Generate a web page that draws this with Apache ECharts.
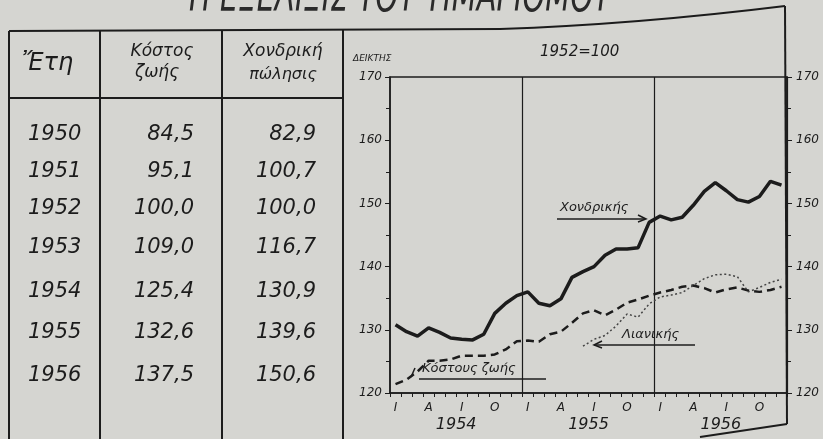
<!DOCTYPE html>
<html>
<head>
<meta charset="utf-8">
<script src="https://cdn.jsdelivr.net/npm/echarts@6/dist/echarts.min.js"></script>
<style>
  html, body { margin: 0; padding: 0; background: #d5d5d1; }
  #chart { width: 823px; height: 439px; }
</style>
</head>
<body>
<div id="chart"></div>
<script>
// monthly index 1954-1956 (1952 = 100)
var years = ["1954", "1955", "1956"];
var monthLetters = ["Ι", "Φ", "Μ", "Α", "Μ", "Ι", "Ι", "Α", "Σ", "Ο", "Ν", "Δ"];

var wholesale = [130.8, 129.7, 129.0, 130.3, 129.6, 128.7, 128.5, 128.4, 129.3, 132.6, 134.2, 135.4,
                 136.0, 134.2, 133.8, 134.9, 138.3, 139.2, 140.0, 141.8, 142.8, 142.8, 143.0, 147.0,
                 148.0, 147.4, 147.8, 149.7, 151.9, 153.3, 152.0, 150.6, 150.2, 151.1, 153.5, 152.9];
var costOfLiving = [121.4, 122.1, 123.4, 125.1, 125.1, 125.3, 125.9, 125.9, 125.9, 126.1, 126.9, 128.2,
                    128.3, 128.1, 129.3, 129.7, 131.1, 132.6, 133.1, 132.3, 133.2, 134.3, 134.8, 135.4,
                    135.9, 136.3, 136.8, 137.0, 136.6, 135.9, 136.4, 136.7, 136.2, 136.0, 136.3, 136.8];
var retail = [null, null, null, null, null, null, null, null, null, null, null, null,
              null, null, null, null, null, 127.4, 128.5, 129.1, 130.6, 132.5, 132.0, 134.1,
              135.2, 135.5, 135.9, 137.0, 138.1, 138.7, 138.8, 138.4, 136.0, 136.7, 137.5, 138.0];

// yearly table
var tableYears = ["1950", "1951", "1952", "1953", "1954", "1955", "1956"];
var tableCost = [84.5, 95.1, 100.0, 109.0, 125.4, 132.6, 137.5];
var tableWholesale = [82.9, 100.7, 100.0, 116.7, 130.9, 139.6, 150.6];

var ink = "#1c1c1c";
var hand = "'DejaVu Sans', sans-serif";

var months = [];
years.forEach(function (y) {
    monthLetters.forEach(function (m, i) { months.push(y + "-" + (i + 1)); });
});

function fmt(v) { return v.toFixed(1).replace(".", ","); }

function txt(s, x, y, size, align, extra) {
    var st = { text: s, x: x, y: y, fill: ink, align: align || "left", verticalAlign: "middle",
               font: "italic " + size + "px " + hand };
    if (extra) for (var k in extra) st[k] = extra[k];
    return { type: "text", silent: true, style: st };
}
function ln(x1, y1, x2, y2, w) {
    return { type: "line", silent: true, shape: { x1: x1, y1: y1, x2: x2, y2: y2 },
             style: { stroke: ink, lineWidth: w || 1.5 } };
}
function pl(pts, w) {
    return { type: "polyline", silent: true, shape: { points: pts },
             style: { stroke: ink, lineWidth: w || 1.5, fill: null } };
}

var graphics = [
    // title, only its lower part is on the page
    { type: "text", silent: true, x: 400, y: 21, scaleY: 1.5,
      style: { text: "Η ΕΞΕΛΙΞΙΣ ΤΟΥ ΤΙΜΑΡΙΘΜΟΥ", x: 0, y: 0, align: "center", verticalAlign: "bottom",
               fill: "#2a2a2a", font: "italic 29px " + hand } },
    // frame
    ln(9, 31, 500, 29, 2),
    { type: "bezierCurve", silent: true,
      shape: { x1: 500, y1: 29, cpx1: 620, cpy1: 25, cpx2: 720, cpy2: 14, x2: 785, y2: 6 },
      style: { stroke: ink, lineWidth: 2, fill: null } },
    ln(785, 6, 787, 424, 2),
    ln(700, 437, 787, 424, 2),
    ln(9, 31, 9, 439, 2),
    ln(100, 31, 100, 439, 2),
    ln(222, 31, 222, 439, 2),
    ln(343, 30, 343, 439, 2),
    ln(9, 98, 343, 98, 2),
    // table header
    txt("Ἔτη", 22, 64, 24),
    txt("Κόστος", 162, 52, 17, "center"),
    txt("ζωής", 157, 73, 17, "center"),
    txt("Χονδρική", 283, 52, 17, "center"),
    txt("πώλησις", 283, 75, 16, "center"),
    // chart header
    txt("ΔΕΙΚΤΗΣ", 353, 59, 9),
    txt("1952=100", 540, 52, 15),
    // series labels
    txt("Χονδρικής", 560, 208, 13),
    ln(557, 219, 645, 219, 1.5),
    pl([[638, 215], [646, 219], [638, 222]]),
    txt("Λιανικής", 622, 335, 13),
    ln(594, 345, 695, 345, 1.5),
    pl([[602, 341], [594, 345], [602, 348]]),
    txt("Κόστους ζωής", 422, 369, 13),
    ln(419, 379, 546, 379, 1.5),
    ln(411, 377, 415, 368, 1.5)
];

tableYears.forEach(function (y, i) {
    var rowY = [135, 172, 209, 248, 292, 333, 376][i];
    graphics.push(txt(y, 28, rowY, 21));
    graphics.push(txt(fmt(tableCost[i]), 194, rowY, 21, "right"));
    graphics.push(txt(fmt(tableWholesale[i]), 316, rowY, 21, "right"));
});

var myChart = echarts.init(document.getElementById("chart"));
var labelFont = { color: ink, fontStyle: "italic", fontFamily: hand, fontSize: 12 };

var option = {
    backgroundColor: "#d5d5d1",
    animation: false,
    grid: { left: 390, right: 36, top: 77, bottom: 46, show: true, borderColor: ink, borderWidth: 1.5 },
    xAxis: [{
        type: "category",
        data: months,
        boundaryGap: true,
        axisLine: { lineStyle: { color: ink, width: 1.5 } },
        axisTick: { show: true, interval: 0, length: 4, lineStyle: { color: ink } },
        axisLabel: Object.assign({
            interval: function (i) { return i % 3 === 0; },
            formatter: function (v, i) { return monthLetters[i % 12]; },
            margin: 9
        }, labelFont),
        splitLine: {
            show: true,
            interval: function (i) { return i > 0 && i % 12 === 0; },
            lineStyle: { color: ink, width: 1.2 }
        }
    }, {
        type: "category",
        data: years,
        position: "bottom",
        offset: 20,
        axisLine: { show: false },
        axisTick: { show: false },
        axisLabel: Object.assign({}, labelFont, { fontSize: 16, margin: 4 })
    }],
    yAxis: [{
        type: "value",
        min: 120, max: 170, interval: 10,
        axisLine: { show: true, lineStyle: { color: ink, width: 1.5 } },
        axisTick: { show: true, length: 5, lineStyle: { color: ink } },
        minorTick: { show: true, splitNumber: 2, length: 4, lineStyle: { color: ink } },
        splitLine: { show: false },
        axisLabel: Object.assign({ margin: 8 }, labelFont)
    }, {
        type: "value",
        position: "right",
        min: 120, max: 170, interval: 10,
        axisLine: { show: true, lineStyle: { color: ink, width: 1.5 } },
        axisTick: { show: true, length: 5, lineStyle: { color: ink } },
        minorTick: { show: true, splitNumber: 2, length: 4, lineStyle: { color: ink } },
        splitLine: { show: false },
        axisLabel: Object.assign({ margin: 9 }, labelFont)
    }],
    series: [{
        name: "Χονδρικής",
        type: "line",
        data: wholesale,
        symbol: "none",
        lineStyle: { color: ink, width: 3.5 }
    }, {
        name: "Κόστους ζωής",
        type: "line",
        data: costOfLiving,
        symbol: "none",
        lineStyle: { color: ink, width: 2.5, type: [8, 5] }
    }, {
        name: "Λιανικής",
        type: "line",
        data: retail,
        symbol: "none",
        lineStyle: { color: "#444", width: 1.5, type: [2, 2.5] }
    }],
    graphic: graphics
};

option && "object" == typeof option && myChart.setOption(option, true);
</script>
</body>
</html>
